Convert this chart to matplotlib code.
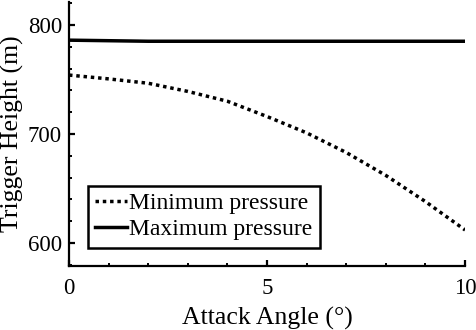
import matplotlib
matplotlib.use("Agg")
import matplotlib.pyplot as plt
from matplotlib.ticker import MultipleLocator

angle = [0, 1, 2, 3, 4, 5, 6, 7, 8, 9, 10]
min_pressure = [754, 750.5, 746.5, 739, 730, 716, 701, 683, 662, 638, 612]
max_pressure = [786, 785.5, 785, 785, 785, 785, 785, 785, 785, 785, 785]

plt.rcParams['font.family'] = ['Liberation Serif', 'DejaVu Serif']

fig = plt.figure(figsize=(4.77, 3.30), dpi=100)
ax = fig.add_axes([0.1447, 0.194, 0.975 - 0.1447, 0.994 - 0.194])

ax.plot(angle, min_pressure, color='black', lw=2.5, linestyle=(0, (1, 1.1)), label='Minimum pressure')
ax.plot(angle, max_pressure, color='black', lw=2.5, linestyle='-', label='Maximum pressure')

ax.set_xlim(0, 10)
ax.set_ylim(579, 821)
ax.xaxis.set_major_locator(MultipleLocator(5))
ax.xaxis.set_minor_locator(MultipleLocator(1))
ax.yaxis.set_major_locator(MultipleLocator(100))
ax.yaxis.set_minor_locator(MultipleLocator(20))

for s in ['top', 'right']:
    ax.spines[s].set_visible(False)
for s in ['left', 'bottom']:
    ax.spines[s].set_linewidth(1.6)

ax.tick_params(which='major', direction='in', length=4, width=1.6, labelsize=16.5)
ax.tick_params(which='minor', direction='in', length=2, width=1.4)
ax.tick_params(axis='x', which='major', pad=9)
ax.tick_params(axis='y', which='major', pad=5)

ax.set_xlabel('Attack Angle (°)', fontsize=18.5, labelpad=5)
ax.set_ylabel('Trigger Height (m)', fontsize=18.5, labelpad=3)

leg = ax.legend(loc='lower left', bbox_to_anchor=(0.048, 0.07), fontsize=17,
                frameon=True, fancybox=False, edgecolor='black', framealpha=1,
                handlelength=1.35, handletextpad=0.1, borderpad=0.3,
                labelspacing=0.2, borderaxespad=0)
leg.get_frame().set_linewidth(1.8)

fig.savefig('out.png', dpi=100)
